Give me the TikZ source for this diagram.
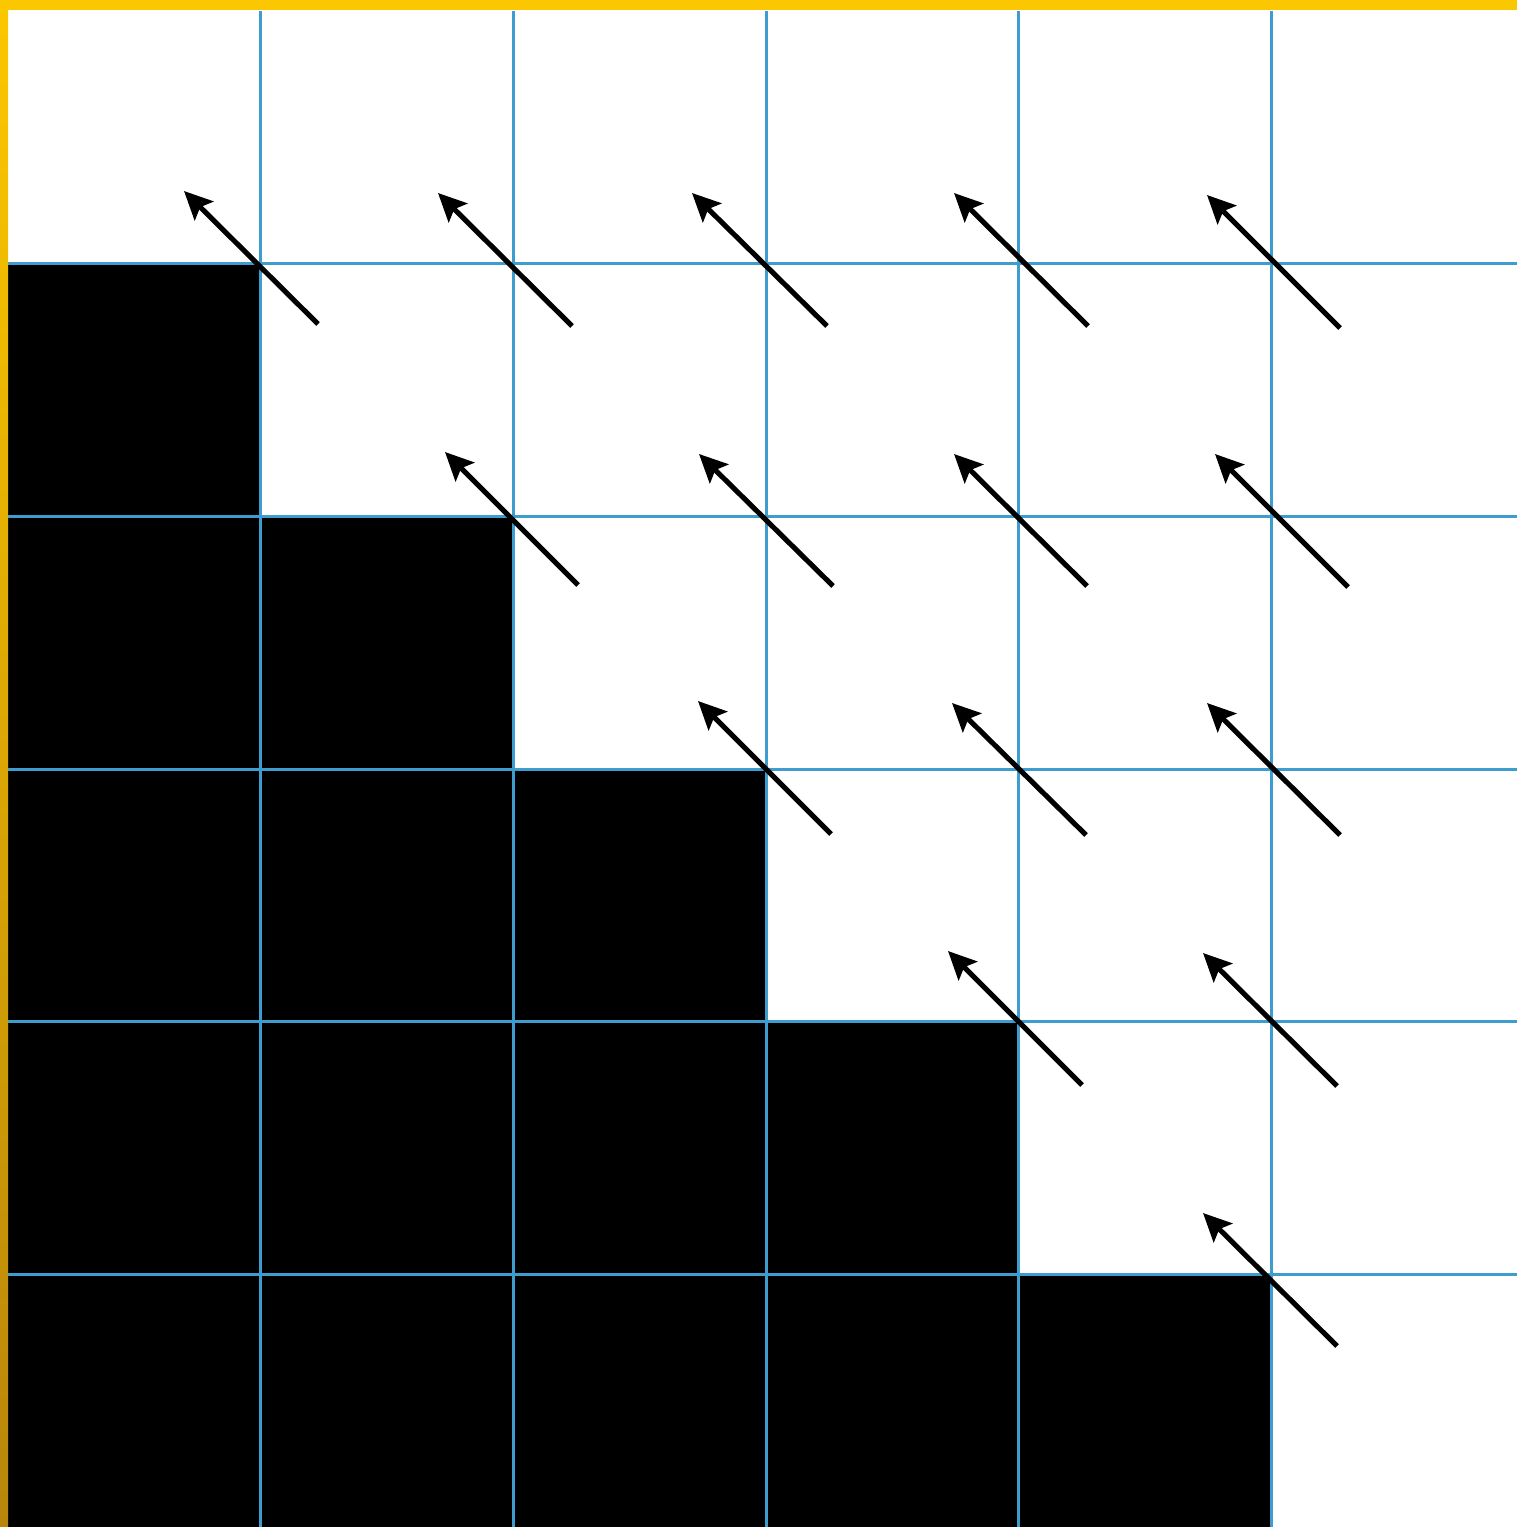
\documentclass[tikz,border=0pt]{standalone}
\usetikzlibrary{arrows.meta}
\definecolor{gridblue}{HTML}{3F9CCF}
\definecolor{goldtop}{HTML}{FBC700}
\definecolor{goldbot}{HTML}{B8860A}
\tikzset{
  gridline/.style={gridblue, line width=0.8pt},
  vecarrow/.style={black, line width=1.45pt, -{Stealth[length=8pt,width=7.5pt,inset=1.5pt]}},
}
\begin{document}
\begin{tikzpicture}[x=0.01cm,y=-0.01cm]
\useasboundingbox (0,0) rectangle (1517,1527);
\fill[white] (0,0) rectangle (1517,1527);
% black staircase
\foreach \j in {1,...,5}{
  \pgfmathsetmacro{\yy}{11+\j*252.7}
  \pgfmathsetmacro{\xx}{8+\j*252.7}
  \fill[black] (8,\yy) rectangle (\xx,1527);
}
% grid
\foreach \i in {1,...,5}{
  \pgfmathsetmacro{\p}{8+\i*252.7}
  \draw[gridline] (\p,11) -- (\p,1527);
  \pgfmathsetmacro{\q}{11+\i*252.7}
  \draw[gridline] (8,\q) -- (1517,\q);
}
% borders
\fill[goldtop] (0,0) rectangle (1517,10);
\shade[top color=goldtop, bottom color=goldbot] (0,0) rectangle (8,1527);
% arrows: tail x/y / tip x/y
\foreach \n/\ax/\ay/\bx/\by in {
  a1/318/324/184/191, a2/572/326/438/193, a3/827/326/692/193, a4/1088/326/954/193, a5/1340/328/1207/195,
  b2/578/585/445/452, b3/833/586/699/454, b4/1087/586/954/454, b5/1348/587/1215/454,
  c3/831/834/698/701, c4/1086/835/952/703, c5/1340/835/1207/703,
  d4/1082/1085/948/951, d5/1337/1086/1203/953,
  e5/1337/1346/1203/1213}{
  \coordinate (\n-tail) at (\ax,\ay);
  \coordinate (\n-tip) at (\bx,\by);
  \draw[vecarrow] (\n-tail) -- (\n-tip);
}
\end{tikzpicture}
\end{document}
